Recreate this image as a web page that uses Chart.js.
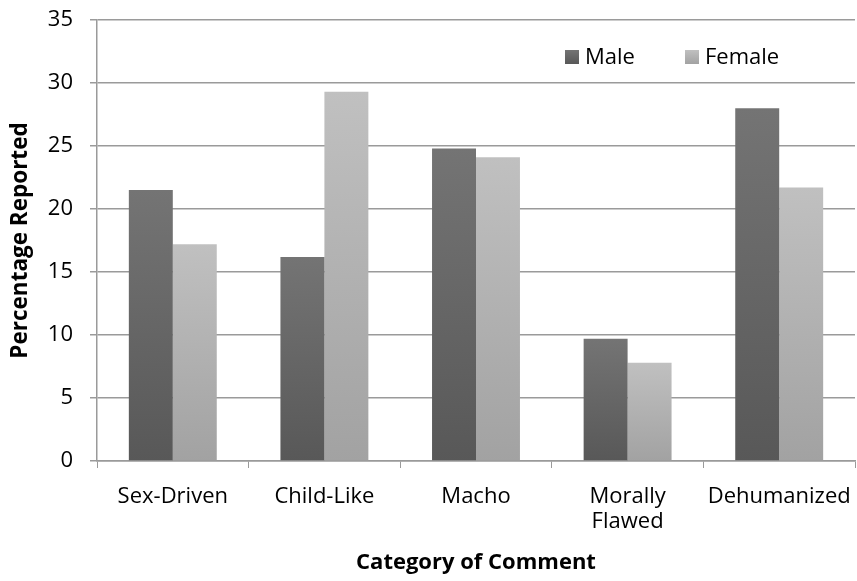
<!DOCTYPE html>
<html>
<head>
<meta charset="utf-8">
<script src="https://cdn.jsdelivr.net/npm/chart.js@4/dist/chart.umd.min.js"></script>
<style>
  html, body { margin: 0; padding: 0; background: #fff; }
  #wrap { width: 857px; height: 581px; position: relative; }
</style>
</head>
<body>
<div id="wrap"><canvas id="c" width="857" height="581"></canvas></div>
<script>
// Share of comments per category, by gender of the character
const categories = ['Sex-Driven', 'Child-Like', 'Macho', ['Morally', 'Flawed'], 'Dehumanized'];
const maleValues = [21.5, 16.2, 24.8, 9.7, 28.0];
const femaleValues = [17.2, 29.3, 24.1, 7.8, 21.7];
const yTicks = [0, 5, 10, 15, 20, 25, 30, 35];

const FONT = '"Open Sans", "Liberation Sans", sans-serif';

// Vertical gradient running from each bar's top down to the baseline
function barGradient(topColor, bottomColor) {
  return function (ctx) {
    const chart = ctx.chart;
    if (!chart.chartArea || ctx.type !== 'data') return bottomColor;
    const y = chart.scales.y;
    const yTop = y.getPixelForValue(ctx.raw);
    const yBase = y.getPixelForValue(0);
    if (!isFinite(yTop) || yBase - yTop < 1) return bottomColor;
    const g = chart.ctx.createLinearGradient(0, yTop, 0, yBase);
    g.addColorStop(0, topColor);
    g.addColorStop(1, bottomColor);
    return g;
  };
}

// Legend drawn inside the plot area, near the top right
const innerLegend = {
  id: 'innerLegend',
  afterDatasetsDraw(chart) {
    const c = chart.ctx;
    const items = [
      { x: 565, fill: ['#747474', '#585858'] },
      { x: 685, fill: ['#c0c0c0', '#a2a2a2'] }
    ];
    const yMid = 57;
    c.save();
    c.font = '22px ' + FONT;
    c.textBaseline = 'middle';
    chart.data.datasets.forEach((ds, i) => {
      const it = items[i];
      const g = c.createLinearGradient(0, yMid - 7, 0, yMid + 7);
      g.addColorStop(0, it.fill[0]);
      g.addColorStop(1, it.fill[1]);
      c.fillStyle = g;
      c.fillRect(it.x, yMid - 7, 14, 14);
      c.fillStyle = '#000';
      c.fillText(ds.label, it.x + 20, yMid + 1);
    });
    c.restore();
  }
};

new Chart(document.getElementById('c'), {
  type: 'bar',
  data: {
    labels: categories,
    datasets: [
      {
        label: 'Male',
        data: maleValues,
        backgroundColor: barGradient('#747474', '#585858'),
        borderWidth: 0
      },
      {
        label: 'Female',
        data: femaleValues,
        backgroundColor: barGradient('#c0c0c0', '#a2a2a2'),
        borderWidth: 0
      }
    ]
  },
  options: {
    responsive: false,
    animation: false,
    devicePixelRatio: 1,
    layout: { padding: { top: 20, right: 2, left: 0, bottom: 0 } },
    datasets: { bar: { categoryPercentage: 0.58, barPercentage: 1.0 } },
    plugins: {
      legend: { display: false },
      tooltip: { enabled: false }
    },
    scales: {
      x: {
        offset: true,
        grid: {
          offset: true,
          drawOnChartArea: false,
          drawTicks: true,
          tickLength: 7,
          color: '#9a9a9a',
          lineWidth: 1
        },
        border: { color: '#9a9a9a', width: 1.5 },
        ticks: {
          color: '#000',
          font: { family: FONT, size: 22, lineHeight: 1.15 },
          padding: 16,
          maxRotation: 0,
          autoSkip: false
        },
        title: {
          display: true,
          text: 'Category of Comment',
          color: '#000',
          font: { family: FONT, size: 22, weight: 'bold' },
          padding: { top: 0, bottom: 5 }
        },
        afterFit(scale) {
          scale.height = 120;
          // let the outer labels overhang instead of shrinking the plot
          scale.paddingLeft = 0;
          scale.paddingRight = 0;
        }
      },
      y: {
        min: 0,
        max: 35,
        afterBuildTicks(scale) { scale.ticks = yTicks.map(v => ({ value: v })); },
        grid: {
          drawOnChartArea: true,
          drawTicks: true,
          tickLength: 7,
          color: '#9a9a9a',
          lineWidth: 1.5
        },
        border: { color: '#9a9a9a', width: 1.5 },
        ticks: {
          color: '#000',
          font: { family: FONT, size: 22 },
          padding: 17
        },
        title: {
          display: true,
          text: 'Percentage Reported',
          color: '#000',
          font: { family: FONT, size: 22.5, weight: 'bold' },
          padding: { top: 7, bottom: 0 }
        },
        afterFit(scale) {
          scale.width = 97;
          scale.paddingTop = 0;
          scale.paddingBottom = 0;
        }
      }
    }
  },
  plugins: [innerLegend]
});
</script>
</body>
</html>
